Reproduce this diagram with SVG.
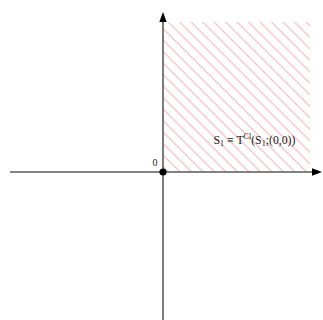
<svg xmlns="http://www.w3.org/2000/svg" width="323" height="320" viewBox="0 0 323 320">
<style>
.axis{stroke:#5a5a5a;stroke-width:1.6;fill:none}
.head{fill:#000}
.lbl{font-family:"Liberation Serif","Times New Roman",serif;fill:#222}
</style>
<defs>
<pattern id="hatch" patternUnits="userSpaceOnUse" width="8.132" height="10" patternTransform="rotate(-45)">
<line x1="5.657" y1="-1" x2="5.657" y2="11" stroke="#f3a0a0" stroke-width="0.9"/>
</pattern>
</defs>
<rect id="region" x="163" y="22" width="147" height="150" fill="url(#hatch)"/>
<g id="connectors">
<line class="axis" x1="10" y1="172" x2="313" y2="172"/>
<polygon class="head" points="322,172 312,168.3 312,175.7"/>
<line class="axis" x1="163" y1="320" x2="163" y2="21"/>
<polygon class="head" points="163,12 159.3,22 166.7,22"/>
</g>
<g id="origin">
<circle cx="163" cy="172" r="3.6" fill="#000"/>
<text class="lbl" x="157.5" y="166" font-size="10" text-anchor="end">0</text>
</g>
<g id="label">
<text class="lbl" x="213.5" y="143.5" font-size="11.8">S<tspan font-size="8" dy="2">1</tspan><tspan dy="-2"> ≡ T</tspan><tspan font-size="8" dy="-4.5">Cl</tspan><tspan dy="4.5">(S</tspan><tspan font-size="8" dy="2">1</tspan><tspan dy="-2">;(0,0))</tspan></text>
</g>
</svg>
